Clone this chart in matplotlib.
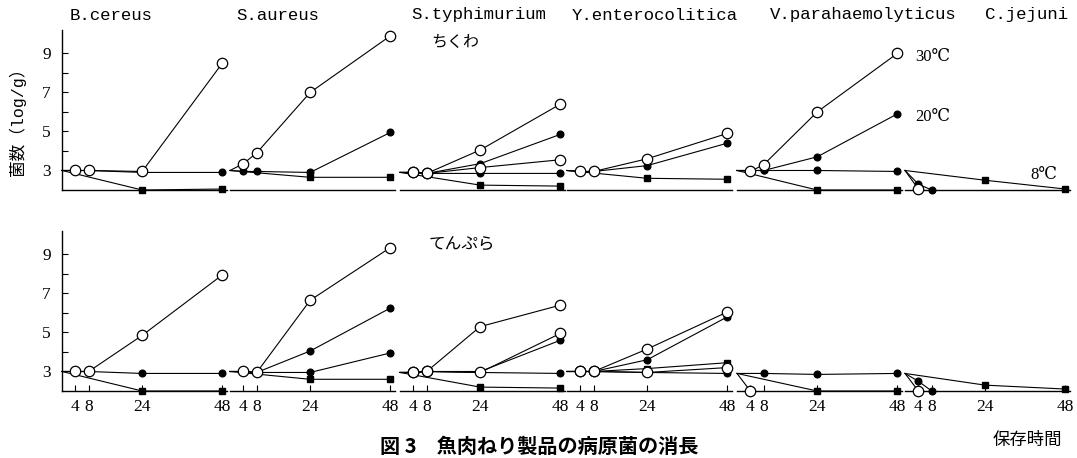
import matplotlib
matplotlib.use('Agg')
import matplotlib.pyplot as plt

# time axis (hours) and bacterial counts (log/g)
T5 = [0, 4, 8, 24, 48]
T3 = [0, 24, 48]

organisms = ['B.cereus', 'S.aureus', 'S.typhimurium', 'Y.enterocolitica',
             'V.parahaemolyticus', 'C.jejuni']

# ちくわ (top row): (temperature, times, values)
ck_bcereus = [('30', T5, [3.0, 3.0, 3.0, 2.95, 8.5]),
              ('20', T5, [3.0, 3.0, 3.0, 2.9, 2.9]),
              ('8', T3, [3.0, 2.0, 2.05])]
ck_saureus = [('30', T5, [3.0, 3.35, 3.9, 7.0, 9.9]),
              ('20', T5, [3.0, 2.95, 2.95, 2.9, 4.95]),
              ('8', T3, [3.0, 2.65, 2.65])]
ck_styphi = [('30', T5, [2.9, 2.9, 2.85, 4.05, 6.4]),
             ('20', T5, [2.9, 2.9, 2.85, 3.35, 4.85]),
             ('30', T5, [2.9, 2.9, 2.85, 3.15, 3.55]),
             ('20', T5, [2.9, 2.9, 2.85, 2.85, 2.85]),
             ('8', T3, [2.9, 2.25, 2.2])]
ck_yent = [('30', T5, [3.0, 2.95, 2.95, 3.6, 4.9]),
           ('20', T5, [3.0, 2.95, 2.95, 3.25, 4.4]),
           ('8', T3, [3.0, 2.6, 2.55])]
ck_vpara = [('30', T5, [3.0, 2.95, 3.3, 6.0, 9.0]),
            ('20', [0, 8, 24, 48], [3.0, 3.0, 3.7, 5.9]),
            ('20', [0, 8, 24, 48], [3.0, 3.0, 3.0, 2.95]),
            ('8', T3, [3.0, 2.0, 2.0])]
ck_cjej = [('30', [0, 4], [3.0, 2.05]),
           ('20', [0, 4, 8], [3.0, 2.3, 2.0]),
           ('8', T3, [3.0, 2.5, 2.05])]

# てんぷら (bottom row)
tp_bcereus = [('30', T5, [3.0, 3.0, 3.0, 4.85, 7.95]),
              ('20', T5, [3.0, 3.0, 3.0, 2.9, 2.9]),
              ('8', T3, [3.0, 2.0, 2.0])]
tp_saureus = [('30', T5, [3.0, 3.0, 2.95, 6.65, 9.35]),
              ('20', T5, [3.0, 3.0, 2.95, 4.05, 6.25]),
              ('20', T5, [3.0, 3.0, 2.95, 2.95, 3.95]),
              ('8', T3, [3.0, 2.6, 2.6])]
tp_styphi = [('30', T5, [2.95, 2.95, 3.0, 5.3, 6.4]),
             ('30', T5, [2.95, 2.95, 3.0, 2.95, 4.95]),
             ('20', T5, [2.95, 2.95, 3.0, 3.0, 4.6]),
             ('20', T5, [2.95, 2.95, 3.0, 2.95, 2.9]),
             ('8', T3, [2.95, 2.2, 2.15])]
tp_yent = [('30', T5, [3.0, 3.0, 3.0, 4.15, 6.05]),
           ('20', T5, [3.0, 3.0, 3.0, 3.6, 5.8]),
           ('8', T5, [3.0, 3.0, 3.0, 3.15, 3.45]),
           ('30', T5, [3.0, 3.0, 3.0, 2.95, 3.2]),
           ('20', T5, [3.0, 3.0, 3.0, 2.95, 2.9])]
tp_vpara = [('30', [0, 4], [2.9, 2.0]),
            ('20', [0, 8, 24, 48], [2.9, 2.9, 2.85, 2.9]),
            ('8', T3, [2.9, 2.0, 2.0])]
tp_cjej = [('30', [0, 4], [2.9, 2.0]),
           ('20', [0, 4, 8], [2.9, 2.5, 2.0]),
           ('8', T3, [2.9, 2.3, 2.1])]

chikuwa = [ck_bcereus, ck_saureus, ck_styphi, ck_yent, ck_vpara, ck_cjej]
tempura = [tp_bcereus, tp_saureus, tp_styphi, tp_yent, tp_vpara, tp_cjej]

xticks = [4, 8, 24, 48]
yticks = [3, 5, 7, 9]

#######################
#
# Plots

W, H = 1077, 458
fig = plt.figure(figsize=(W / 100, H / 100), dpi=100)

SERIF = ['Liberation Serif', 'DejaVu Serif', 'Noto Sans CJK JP']
MONO = ['Liberation Mono', 'Noto Sans CJK JP']
JP = ['Noto Sans CJK JP']

STYLE = {'30': dict(marker='o', ms=7.5, mfc='white', mec='black', mew=0.9, zorder=4),
         '20': dict(marker='o', ms=4.8, mfc='black', mec='black', zorder=3),
         '8': dict(marker='s', ms=4.5, mfc='black', mec='black', zorder=3)}

panel_x0 = [62, 230, 400, 567, 737, 905]
row_base = [190, 391]
PW, PH = 165, 160


def fx(px):
    return px / W


def fy(py):
    return 1 - py / H


for row, (rowdata, base) in enumerate(zip([chikuwa, tempura], row_base)):
    for col, panel in enumerate(rowdata):
        ax = fig.add_axes([fx(panel_x0[col]), fy(base), PW / W, PH / H])
        ax.set_xlim(0, 49.4)
        ax.set_ylim(2.0, 10.2)
        ax.patch.set_visible(False)
        for s in ['top', 'right']:
            ax.spines[s].set_visible(False)
        ax.spines['bottom'].set_linewidth(1.0)
        if col == 0:
            ax.spines['left'].set_linewidth(1.0)
            ax.set_yticks(yticks)
            ax.set_yticks([4, 6, 8], minor=True)
            ax.tick_params(axis='y', which='both', direction='in', length=4,
                           width=0.8, pad=8)
            for lab in ax.get_yticklabels():
                lab.set_family(SERIF)
                lab.set_fontsize(12.5)
        else:
            ax.spines['left'].set_visible(False)
            ax.set_yticks([])
        if row == 1:
            ax.set_xticks(xticks)
            ax.set_xticklabels([str(t) for t in xticks], family=SERIF, fontsize=12.5)
            ax.tick_params(axis='x', direction='in', length=4, width=0.8, pad=6)
        else:
            ax.set_xticks([])
        # the start point at 0 h has no marker, lines fan out from it
        for key, t, v in panel:
            ax.plot(t, v, color='black', lw=0.8, clip_on=False,
                    markevery=slice(1, None), **STYLE[key])

# organism names
title_x = [111, 278, 479, 655, 863, 1027]
for name, x in zip(organisms, title_x):
    fig.text(fx(x), fy(15), name, family=MONO, fontsize=12.5, ha='center', va='center')

fig.text(fx(455), fy(42), 'ちくわ', family=JP, fontsize=11.5, ha='center', va='center')
fig.text(fx(462), fy(245), 'てんぷら', family=JP, fontsize=12, ha='center', va='center')

fig.text(fx(915), fy(57), '30℃', family=SERIF, fontsize=12, ha='left', va='center')
fig.text(fx(915), fy(117), '20℃', family=SERIF, fontsize=12, ha='left', va='center')
fig.text(fx(1030), fy(175), '8℃', family=SERIF, fontsize=12, ha='left', va='center')

fig.text(fx(17), fy(118), '菌数（log/g）', family=MONO, fontsize=12, rotation=90,
         ha='center', va='center')
fig.text(fx(1027), fy(440), '保存時間', family=JP, fontsize=12.5, ha='center', va='center')
fig.text(fx(380), fy(457), '図 3　魚肉ねり製品の病原菌の消長', family=JP, fontsize=14.5,
         weight='bold', ha='left', va='bottom')

plt.savefig('out.png', dpi=100)
plt.close()
